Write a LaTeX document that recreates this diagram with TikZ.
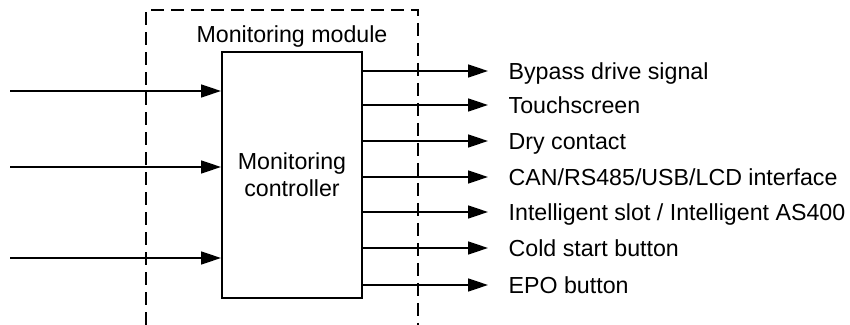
\documentclass[tikz,border=0pt]{standalone}
\usepackage{fontspec}
\setmainfont{Liberation Sans}
\usetikzlibrary{arrows.meta}
\tikzstyle{every node}=[font=\fontsize{11.6}{13.5}\selectfont]
\tikzstyle{ctrl}=[draw, line width=1pt, minimum width=70pt, minimum height=123pt, align=center, inner sep=0pt]
\tikzstyle{sig}=[anchor=west, inner xsep=10pt, inner ysep=0pt, text height=8.3pt, text depth=0pt]
\tikzstyle{wire}=[line width=0.75pt, -{Triangle[length=10pt,width=6.5pt]}]

\begin{document}
\begin{tikzpicture}[x=0.5pt, y=-0.5pt, line width=0.65pt]
\useasboundingbox (0,0) rectangle (850,325);
% Module boundary
    \draw[dash pattern=on 6.5pt off 3.5pt] (146,325) -- (146,10) -- (418,10) -- (418,325);
    \node (module) at (292,37) {Monitoring module};
% Controller
    \node[ctrl] (ctrl) at (292,175) {Monitoring\\controller};
% Inputs
    \coordinate (in1) at (10,91);
    \coordinate (in2) at (10,167);
    \coordinate (in3) at (10,258);
    \draw[wire] (in1) -- (ctrl.west |- in1);
    \draw[wire] (in2) -- (ctrl.west |- in2);
    \draw[wire] (in3) -- (ctrl.west |- in3);
% Outputs
    \node[sig] (out1) at (488,71) {Bypass drive signal};
    \node[sig] (out2) at (488,105) {Touchscreen};
    \node[sig] (out3) at (488,141) {Dry contact};
    \node[sig] (out4) at (488,177) {CAN/RS485/USB/LCD interface};
    \node[sig] (out5) at (488,212) {Intelligent slot / Intelligent AS400};
    \node[sig] (out6) at (488,248) {Cold start button};
    \node[sig] (out7) at (488,285) {EPO button};
    \draw[wire] (ctrl.east |- out1) -- (out1.west);
    \draw[wire] (ctrl.east |- out2) -- (out2.west);
    \draw[wire] (ctrl.east |- out3) -- (out3.west);
    \draw[wire] (ctrl.east |- out4) -- (out4.west);
    \draw[wire] (ctrl.east |- out5) -- (out5.west);
    \draw[wire] (ctrl.east |- out6) -- (out6.west);
    \draw[wire] (ctrl.east |- out7) -- (out7.west);
\end{tikzpicture}
\end{document}
